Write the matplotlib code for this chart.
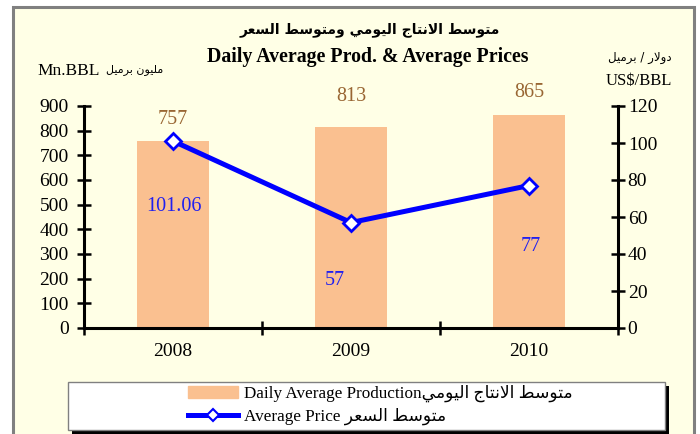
import matplotlib
matplotlib.use("Agg")
import matplotlib.pyplot as plt
from matplotlib.patches import Rectangle
from matplotlib.lines import Line2D

years = ["2008", "2009", "2010"]
production = [757, 813, 865]
price = [101.06, 57, 77]
prod_ticks = [0, 100, 200, 300, 400, 500, 600, 700, 800, 900]
price_ticks = [0, 20, 40, 60, 80, 100, 120]

title_ar = "متوسط الانتاج اليومي ومتوسط السعر"
title_en = "Daily Average Prod. & Average Prices"
left_unit_ar = "مليون برميل"
right_unit_ar = "دولار / برميل"
prod_name_ar = "متوسط الانتاج اليومي"
price_name_ar = "متوسط السعر"

# label offsets in points (styling only)
prod_off = [(0, 16), (0, 22), (0, 16)]
price_off = [(1, -47), (-12, -42), (1, -44)]

# matplotlib does no arabic shaping, so pick presentation forms by hand
FORMS = {
    "ا": "\uFE8D\uFE8E",
    "د": "\uFEA9\uFEAA",
    "ر": "\uFEAD\uFEAE",
    "و": "\uFEED\uFEEE",
    "ب": "\uFE8F\uFE90\uFE91\uFE92",
    "ت": "\uFE95\uFE96\uFE97\uFE98",
    "ج": "\uFE9D\uFE9E\uFE9F\uFEA0",
    "س": "\uFEB1\uFEB2\uFEB3\uFEB4",
    "ط": "\uFEC1\uFEC2\uFEC3\uFEC4",
    "ع": "\uFEC9\uFECA\uFECB\uFECC",
    "ل": "\uFEDD\uFEDE\uFEDF\uFEE0",
    "م": "\uFEE1\uFEE2\uFEE3\uFEE4",
    "ن": "\uFEE5\uFEE6\uFEE7\uFEE8",
    "ي": "\uFEF1\uFEF2\uFEF3\uFEF4",
}


def dual(c):
    return c in FORMS and len(FORMS[c]) == 4


def ar(text):
    chars = list(text)
    out = []
    i = 0
    while i < len(chars):
        c = chars[i]
        if c not in FORMS:
            out.append(c)
            i += 1
            continue
        joins_prev = i > 0 and dual(chars[i - 1])
        if c == "ل" and i + 1 < len(chars) and chars[i + 1] == "ا":
            out.append("\uFEFC" if joins_prev else "\uFEFB")
            i += 2
            continue
        nxt = chars[i + 1] if i + 1 < len(chars) else ""
        joins_next = dual(c) and nxt in FORMS
        f = FORMS[c]
        if joins_prev and joins_next:
            g = f[3]
        elif joins_prev:
            g = f[1]
        elif joins_next:
            g = f[2]
        else:
            g = f[0]
        out.append(g)
        i += 1
    return "".join(reversed(out))


plt.rcParams["font.family"] = ["Liberation Serif", "DejaVu Sans"]

W, H = 700, 434
fig = plt.figure(figsize=(7, 4.34), dpi=100, facecolor="white")


def fx(x):
    return x / W


def fy(y):
    return 1 - y / H


bg = "#FFFFE6"
fig.patches.append(Rectangle((fx(12.5), fy(440)), fx(693.5) - fx(12.5), fy(7.5) - fy(440),
                             transform=fig.transFigure, facecolor=bg, edgecolor="#808080",
                             linewidth=2.2, zorder=-5))

ax = fig.add_axes([fx(84), fy(328), fx(618) - fx(84), fy(106) - fy(328)])
ax.patch.set_visible(False)
x = list(range(len(years)))
bars = ax.bar(x, production, width=0.4, color="#FAC090", zorder=2)
for xi, v, off in zip(x, production, prod_off):
    ax.annotate(str(v), (xi, v), xytext=off, textcoords="offset points",
                ha="center", va="center", fontsize=14.5, color="#996633")

ax.set_xlim(-0.5, 2.5)
ax.set_ylim(0, 900)
ax.set_yticks(prod_ticks)
ax.set_xticks(x)
ax.set_xticklabels(years, fontsize=14)
ax.set_xticks([-0.5, 0.5, 1.5, 2.5], minor=True)
ax.tick_params(axis="x", which="major", length=0, pad=11)
ax.tick_params(axis="x", which="minor", direction="inout", length=10, width=1.8)
ax.tick_params(axis="y", direction="inout", length=10, width=1.8, labelsize=14, pad=6)
for s in ["top", "right"]:
    ax.spines[s].set_visible(False)
for s in ["left", "bottom"]:
    ax.spines[s].set_linewidth(2.2)

ax2 = ax.twinx()
ax2.patch.set_visible(False)
ax2.plot(x, price, color="#0000FF", linewidth=3.6, marker="D", markersize=8,
         markerfacecolor="white", markeredgecolor="#0000FF", markeredgewidth=2, zorder=3)
for xi, v, off in zip(x, price, price_off):
    ax2.annotate(f"{v:g}", (xi, v), xytext=off, textcoords="offset points",
                 ha="center", va="center", fontsize=14.5, color="#2020F0")
ax2.set_ylim(0, 120)
ax2.set_yticks(price_ticks)
ax2.tick_params(axis="y", direction="inout", length=10, width=1.8, labelsize=14, pad=2)
for s in ["top", "left", "bottom"]:
    ax2.spines[s].set_visible(False)
ax2.spines["right"].set_linewidth(2.2)

# titles and unit labels
fig.text(fx(370), fy(30), ar(title_ar), ha="center", va="center", fontsize=10,
         fontweight="bold", family="DejaVu Sans")
fig.text(fx(368), fy(57), title_en, ha="center", va="center", fontsize=14.3,
         fontweight="bold")
fig.text(fx(37), fy(71), "Mn.BBL", ha="left", va="center", fontsize=12.5)
fig.text(fx(163), fy(70), ar(left_unit_ar), ha="right", va="center", fontsize=8,
         family="DejaVu Sans")
fig.text(fx(672), fy(57), ar(right_unit_ar), ha="right", va="center", fontsize=8.5,
         family="DejaVu Sans")
fig.text(fx(672), fy(81), "US$/BBL", ha="right", va="center", fontsize=12)

# legend box with black shadow
fig.patches.append(Rectangle((fx(72), fy(440)), fx(669) - fx(72), fy(386) - fy(440),
                             transform=fig.transFigure, facecolor="black", zorder=1))
fig.patches.append(Rectangle((fx(68), fy(430)), fx(665) - fx(68), fy(382) - fy(430),
                             transform=fig.transFigure, facecolor="white",
                             edgecolor="#808080", linewidth=1, zorder=1))
handles = [Rectangle((0, 0), 1, 1, color="#FAC090"),
           Line2D([], [], color="#0000FF", linewidth=3.6, marker="D", markersize=6,
                  markerfacecolor="white", markeredgecolor="#0000FF", markeredgewidth=1.5)]
labels = ["Daily Average Production" + ar(prod_name_ar),
          "Average Price " + ar(price_name_ar)]
fig.legend(handles, labels, loc="center left", bbox_to_anchor=(fx(173), fy(405)),
           frameon=False, fontsize=12.3, handlelength=2.9, handletextpad=0.35,
           labelspacing=0.35, numpoints=1)

fig.savefig("out.png", dpi=100, facecolor="white")
